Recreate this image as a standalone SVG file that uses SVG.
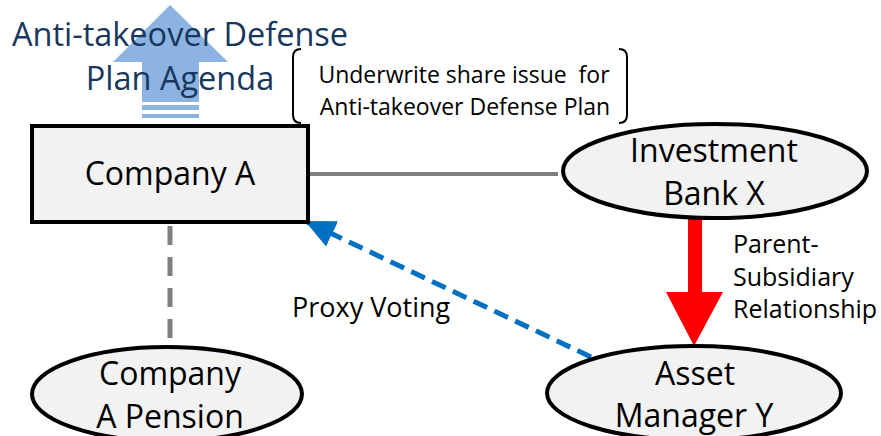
<svg xmlns="http://www.w3.org/2000/svg" width="881" height="436" viewBox="0 0 881 436">
<style>
text{font-family:"Open Sans","Liberation Sans",sans-serif;fill:#000}
.node{fill:#F2F2F2;stroke:#000;stroke-width:4}
.big{font-size:32px;text-anchor:middle}
.lbl{font-size:25px}
.head{font-size:32.5px;text-anchor:middle;fill:#17375E}
.note{font-size:23px;text-anchor:middle}
</style>
<defs>
<marker id="blueHead" markerUnits="userSpaceOnUse" markerWidth="34" markerHeight="30" refX="30" refY="14" orient="auto">
<path d="M0,0 L30,14 L0,28 Z" fill="#0070C0"/>
</marker>
</defs>
<g id="agenda-arrow">
<path d="M170,5 L228,62 L199,62 L199,102 L142,102 L142,62 L113,62 Z" fill="#8DB3E2"/>
<rect x="142" y="105" width="57" height="5" fill="#8DB3E2"/>
<rect x="142" y="114" width="57" height="4" fill="#8DB3E2"/>
</g>
<g id="agenda-label">
<text class="head" x="180" y="46">Anti-takeover Defense</text>
<text class="head" x="180" y="90">Plan Agenda</text>
</g>
<g id="underwrite-note">
<path d="M301,49 Q293,49 293,57 L293,115 Q293,123 301,123" fill="none" stroke="#000" stroke-width="2"/>
<path d="M619,49 Q627,49 627,57 L627,115 Q627,123 619,123" fill="none" stroke="#000" stroke-width="2"/>
<text class="note" x="464" y="83" xml:space="preserve">Underwrite share issue  for</text>
<text class="note" x="465" y="115">Anti-takeover Defense Plan</text>
</g>
<g id="connectors">
<line x1="310" y1="174" x2="558" y2="174" stroke="#7F7F7F" stroke-width="4"/>
<line x1="170" y1="226" x2="170" y2="347" stroke="#7F7F7F" stroke-width="5" stroke-dasharray="19,12"/>
<line x1="591" y1="357" x2="305" y2="221" stroke="#0070C0" stroke-width="5" stroke-dasharray="15,8" marker-end="url(#blueHead)"/>
<path d="M688,218 L702,218 L702,292 L723,292 L694,346 L666,292 L688,292 Z" fill="#FF0000"/>
<g id="proxy-label"><text class="lbl" x="292" y="317" style="font-size:27px">Proxy Voting</text></g>
<g id="parent-label">
<text class="lbl" x="733" y="253">Parent-</text>
<text class="lbl" x="733" y="286">Subsidiary</text>
<text class="lbl" x="733" y="318">Relationship</text>
</g>
</g>
<g id="company-a">
<rect class="node" x="32" y="126" width="276" height="96"/>
<text class="big" x="170" y="185">Company A</text>
</g>
<g id="investment-bank-x">
<ellipse class="node" cx="715" cy="171" rx="152" ry="47"/>
<text class="big" x="714" y="162">Investment</text>
<text class="big" x="714" y="205">Bank X</text>
</g>
<g id="company-a-pension">
<ellipse class="node" cx="167" cy="394" rx="135" ry="47"/>
<text class="big" x="170" y="385">Company</text>
<text class="big" x="170" y="428">A Pension</text>
</g>
<g id="asset-manager-y">
<ellipse class="node" cx="694" cy="393" rx="147" ry="47"/>
<text class="big" x="695" y="385">Asset</text>
<text class="big" x="694" y="427">Manager Y</text>
</g>
</svg>
